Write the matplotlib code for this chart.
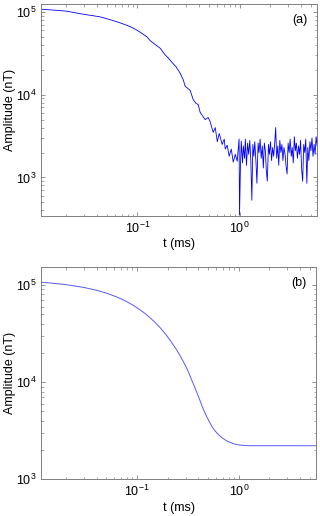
import matplotlib
matplotlib.use("Agg")
import matplotlib.pyplot as plt
from matplotlib.ticker import LogLocator, NullFormatter

plt.rcParams['font.family'] = ['Liberation Sans', 'DejaVu Sans']
plt.rcParams['mathtext.default'] = 'regular'

# ---- panel (a): measured (noisy) decay ----
t_meas = [0.01137, 0.0156, 0.0203, 0.0274, 0.043, 0.054, 0.0676, 0.0848, 0.0987,
          0.1236, 0.1334, 0.149, 0.167, 0.187, 0.2, 0.219, 0.239, 0.262, 0.281,
          0.294, 0.314, 0.329, 0.352, 0.376, 0.394, 0.412, 0.441, 0.461, 0.493,
          0.516, 0.552, 0.578, 0.606, 0.633, 0.676, 0.708, 0.725, 0.757, 0.792,
          0.83, 0.868, 0.908, 0.949, 0.99,
          1.00, 1.02, 1.04, 1.07, 1.09, 1.12, 1.14, 1.17, 1.20, 1.23, 1.26, 1.29,
          1.32, 1.35, 1.38, 1.41, 1.45, 1.48, 1.52, 1.55, 1.59, 1.63, 1.67, 1.71,
          1.75, 1.79, 1.83, 1.87, 1.92, 1.96, 2.01, 2.06, 2.11, 2.16, 2.21, 2.26,
          2.31, 2.37, 2.42, 2.48, 2.54, 2.60, 2.66, 2.72, 2.79, 2.85, 2.92, 2.99,
          3.06, 3.13, 3.21, 3.28, 3.36, 3.44, 3.52, 3.60, 3.69, 3.78, 3.87, 3.96,
          4.05, 4.15, 4.25, 4.35, 4.45, 4.56, 4.66, 4.77, 4.89, 5.00, 5.12, 5.24,
          5.37, 5.49, 5.62, 5.75]
a_meas = [107700, 104700, 101900, 95100, 87100, 80500, 73800, 66400, 60300,
          50100, 44900, 40400, 36400, 30200, 27800, 24400, 21700, 18200, 15100,
          12600, 11800, 11200, 8700, 7800, 7600, 6100, 5400, 5000, 5300,
          4700, 3500, 4000, 2700, 3400, 2500, 2900, 2200, 2450, 1800,
          2200, 1530, 1900, 1570, 2900,
          350, 1300, 2750, 1500, 2400, 1700, 2900, 1400, 2600, 1900, 2800, 1600,
          530, 2500, 1800, 2700, 1500, 850, 2600, 2000, 2900, 1700, 2400, 1300,
          2600, 2100, 1200, 900, 2500, 1900, 2700, 1600, 2300, 1800, 2600, 4000,
          1700, 2400, 1400, 2800, 2000, 2500, 1600, 2300, 1900, 1400, 1100, 2600,
          2000, 2900, 1800, 2300, 1500, 3100, 2100, 2600, 1700, 2400, 1900, 2800,
          1300, 900, 2500, 2000, 2900, 850, 2300, 1600, 2700, 2100, 3000, 1800,
          2500, 1900, 3100, 2400]

# ---- panel (b): modelled (smooth) decay ----
t_model = [0.01137, 0.015, 0.02, 0.03, 0.04, 0.05, 0.06, 0.07, 0.08, 0.09, 0.10,
           0.115, 0.13, 0.15, 0.17, 0.19, 0.212, 0.24, 0.265, 0.29, 0.31, 0.33,
           0.353, 0.375, 0.394, 0.42, 0.44, 0.47, 0.50, 0.55, 0.60, 0.643, 0.70,
           0.75, 0.80, 0.857, 0.92, 1.0, 1.1, 1.25, 1.6, 2.5, 5.75]
a_model = [106700, 104200, 100900, 94400, 88300, 82400, 76900, 71800, 67000,
           62500, 58300, 52600, 47400, 41300, 36000, 31300, 26900, 22200, 18700,
           15700, 13700, 11750, 9890, 8510, 7450, 6270, 5500, 4700, 4120, 3430,
           3050, 2830, 2630, 2510, 2430, 2360, 2300, 2260, 2240, 2220, 2220,
           2220, 2220]

x_range = (0.01137, 5.75)
ylim_a = (340, 1.24e5)
ylim_b = (1e3, 1.54e5)

fig = plt.figure(figsize=(3.2, 5.16), dpi=100)
ax1 = fig.add_axes([0.128, 0.581, 0.863, 0.411])
ax2 = fig.add_axes([0.128, 0.071, 0.860, 0.412])

ax1.plot(t_meas, a_meas, color=(0, 0, 1), lw=0.6)
ax2.plot(t_model, a_model, color=(0.35, 0.35, 1), lw=0.7)

for ax, yl, lab in ((ax1, ylim_a, '(a)'), (ax2, ylim_b, '(b)')):
    ax.set_xscale('log')
    ax.set_yscale('log')
    ax.set_xlim(*x_range)
    ax.set_ylim(*yl)
    ax.xaxis.set_major_locator(LogLocator(base=10, numticks=10))
    ax.xaxis.set_minor_locator(LogLocator(base=10, subs=range(2, 10), numticks=20))
    ax.yaxis.set_minor_locator(LogLocator(base=10, subs=range(2, 10), numticks=20))
    ax.xaxis.set_minor_formatter(NullFormatter())
    ax.yaxis.set_minor_formatter(NullFormatter())
    ax.tick_params(which='both', direction='in', top=True, right=True,
                   color='#808080', labelsize=9, pad=3)
    ax.tick_params(which='major', length=3, width=0.6)
    ax.tick_params(which='minor', length=1.8, width=0.5)
    for s in ax.spines.values():
        s.set_color('#808080')
        s.set_linewidth(0.7)
    ax.set_xlabel('t (ms)', fontsize=9, labelpad=2)
    ax.set_ylabel('Amplitude (nT)', fontsize=9)
    ax.yaxis.set_label_coords(-0.09, 0.5)
    ax.text(0.938, 0.925, lab, transform=ax.transAxes, fontsize=9,
            ha='center', va='center')

fig.savefig('out.png', dpi=100)
